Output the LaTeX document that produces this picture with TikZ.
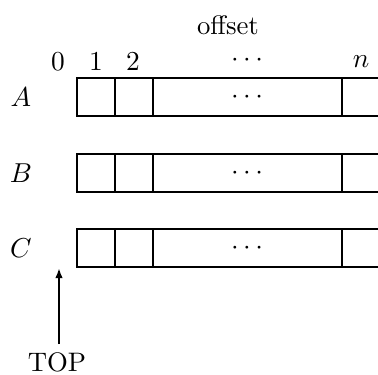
\documentclass[tikz,border=0pt]{standalone}
\usetikzlibrary{arrows.meta}
\begin{document}
\begin{tikzpicture}[x=0.4pt,y=-0.4pt,
  font=\fontsize{10.7pt}{13pt}\selectfont,
  rowline/.style={line width=0.95pt},
  lbl/.style={inner sep=0pt},
  ptr/.style={line width=0.9pt,-{Latex[length=4pt,width=3pt]}}]
\useasboundingbox (0,0) rectangle (378,374);
% column headings
\node[lbl] (offset) at (228,25) {offset};
\node[lbl] (c0) at (58,62) {$0$};
\node[lbl] (c1) at (96,62) {$1$};
\node[lbl] (c2) at (133,62) {$2$};
\node[lbl] (cdots) at (247,60) {$\cdots$};
\node[lbl] (cn) at (361,62) {$n$};
% three rows of cells
\foreach \name/\top in {A/78,B/154,C/229} {
  \pgfmathsetmacro{\bot}{\top+38}
  \pgfmathsetmacro{\mid}{\top+19}
  \node[lbl] (lbl\name) at (21,\mid) {$\name$};
  \coordinate (\name nw) at (77,\top);
  \coordinate (\name sw) at (77,\bot);
  \coordinate (\name ne) at (380,\top);
  \coordinate (\name se) at (380,\bot);
  \draw[rowline] (\name ne) -- (\name nw) -- (\name sw) -- (\name se);
  \draw[rowline] (115,\top) -- (115,\bot);
  \draw[rowline] (153,\top) -- (153,\bot);
  \draw[rowline] (342,\top) -- (342,\bot);
  \node[lbl] (dots\name) at (247,\mid) {$\cdots$};
}
% stack pointer
\node[lbl] (top) at (57,362) {TOP};
\coordinate (tail) at (59,344);
\coordinate (head) at (59,268);
\draw[ptr] (tail) -- (head);
\end{tikzpicture}
\end{document}
